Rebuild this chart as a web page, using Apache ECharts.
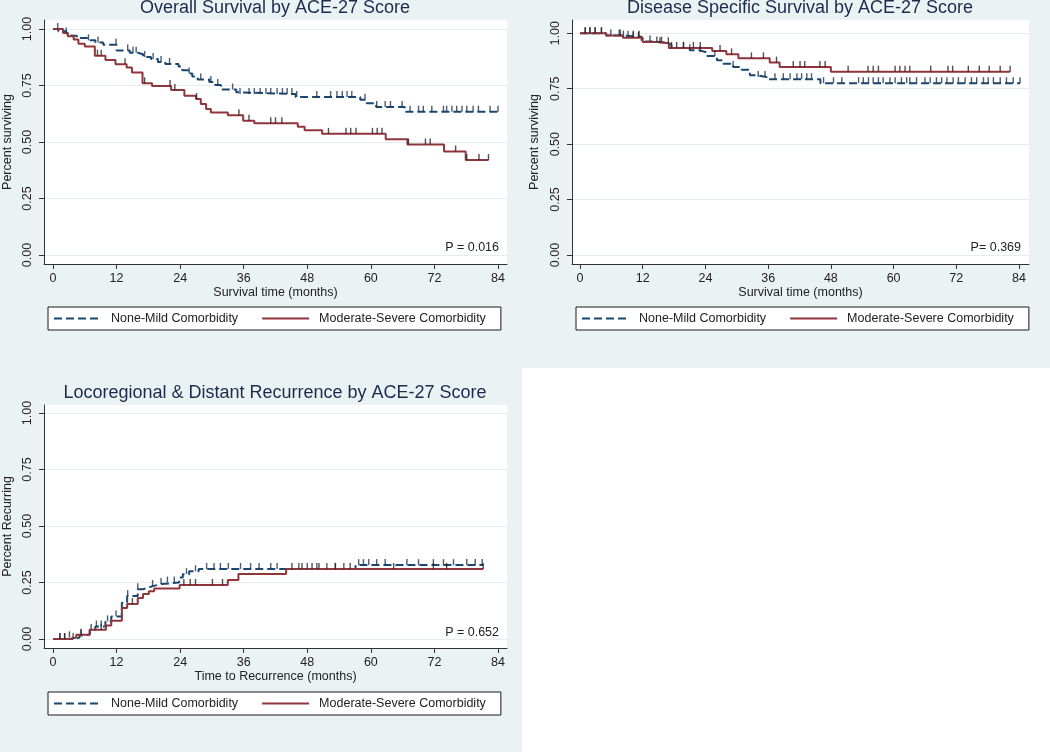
<!DOCTYPE html>
<html>
<head>
<meta charset="utf-8">
<script src="https://cdn.jsdelivr.net/npm/echarts@6/dist/echarts.min.js"></script>
<style>
  html, body { margin: 0; padding: 0; background: #ffffff; }
  #wrap { position: relative; width: 1050px; height: 752px; background: #eaf2f3; overflow: hidden; }
  #blank { position: absolute; left: 522px; top: 368px; width: 528px; height: 384px; background: #ffffff; }
  #chart { position: absolute; left: 0; top: 0; width: 1050px; height: 752px; }
</style>
</head>
<body>
<div id="wrap"><div id="blank"></div><div id="chart"></div></div>
<script>
// ---------- tick labels ----------
const xTicks = [0, 12, 24, 36, 48, 60, 72, 84];
const yTicks = [0, 0.25, 0.5, 0.75, 1];

// ---------- text ----------
const seriesNames = ['None-Mild Comorbidity', 'Moderate-Severe Comorbidity'];
const panelTitles = ['Overall Survival by ACE-27 Score', 'Disease Specific Survival by ACE-27 Score', 'Locoregional & Distant Recurrence by ACE-27 Score'];
const xAxisTitles = ['Survival time (months)', 'Survival time (months)', 'Time to Recurrence (months)'];
const yAxisTitles = ['Percent surviving', 'Percent surviving', 'Percent Recurring'];
const pValues = ['P = 0.016', 'P= 0.369', 'P = 0.652'];

// ---------- Overall survival (time in months, proportion) ----------
const osNoneMild = [[0,1],[1.0,0.99],[2.5,0.98],[3.5,0.97],[4.5,0.96],[6.5,0.95],[8.0,0.94],[9.5,0.93],[12.0,0.905],[14.5,0.895],[16.0,0.888],[17.0,0.876],[18.5,0.867],[19.8,0.854],[21.2,0.845],[23.7,0.834],[24.4,0.817],[25.5,0.803],[26.3,0.79],[27.3,0.777],[29.5,0.765],[30.6,0.752],[31.7,0.732],[34.6,0.72],[35.2,0.712],[45.8,0.699],[58.0,0.687],[59.2,0.671],[61.0,0.655],[66.4,0.634],[84.2,0.634]];
const osModSevere = [[0,1],[1.9,0.982],[2.8,0.968],[3.9,0.953],[4.8,0.935],[6.0,0.922],[7.9,0.882],[9.9,0.863],[11.8,0.844],[13.9,0.83],[14.9,0.808],[16.9,0.76],[18.7,0.748],[22.3,0.73],[24.8,0.705],[27.0,0.69],[27.9,0.668],[28.9,0.646],[29.8,0.631],[33.0,0.618],[35.9,0.594],[38.0,0.583],[46.2,0.568],[47.5,0.552],[50.8,0.536],[62.8,0.512],[66.9,0.489],[73.8,0.458],[77.9,0.42],[82.2,0.42]];
const osNoneMildCensor = [0.9, 2.5, 6.7, 8.5, 11.9, 14.1, 15.1, 15.7, 17.3, 18.9, 20.4, 22.0, 25.7, 27.9, 29.8, 31.1, 33.9, 35.3, 37.0, 38.0, 39.1, 40.2, 41.1, 42.3, 43.3, 44.2, 45.1, 46.0, 49.8, 52.4, 53.6, 54.6, 55.5, 56.4, 58.9, 61.1, 62.7, 63.7, 65.9, 67.4, 69.0, 69.9, 71.5, 73.7, 74.3, 75.3, 76.2, 77.2, 78.1, 79.3, 80.3, 82.5, 84.0];
const osModSevereCensor = [8.4, 9.1, 13.6, 17.3, 22.1, 23.0, 27.1, 35.1, 37.0, 41.1, 42.0, 43.2, 52.0, 55.3, 56.2, 57.2, 60.3, 61.2, 62.1, 67.1, 70.3, 71.2, 76.0, 78.1, 80.4, 82.2];

// ---------- Disease specific survival ----------
const dssNoneMild = [[0,1],[5.0,0.99],[7.7,0.985],[11.8,0.963],[14.0,0.958],[16.5,0.95],[17.5,0.934],[21.0,0.923],[22.9,0.914],[24.2,0.898],[26.2,0.878],[27.4,0.863],[29.3,0.848],[30.9,0.836],[32.5,0.811],[33.8,0.803],[35.7,0.793],[46.0,0.775],[84.2,0.775]];
const dssModSevere = [[0,1],[5.0,0.99],[8.2,0.98],[12.0,0.961],[14.7,0.955],[17.0,0.934],[25.3,0.92],[28.0,0.905],[30.3,0.887],[36.3,0.868],[38.2,0.848],[48.0,0.827],[82.3,0.827]];
const dssNoneMildCensor = [1.0, 1.9, 2.9, 4.1, 5.9, 7.5, 8.3, 9.2, 10.2, 11.3, 13.4, 14.7, 15.6, 17.5, 19.8, 21.0, 23.0, 25.8, 29.3, 34.1, 35.4, 37.3, 38.9, 40.2, 41.5, 42.4, 43.4, 44.3, 46.6, 48.5, 50.1, 53.3, 54.2, 55.2, 56.1, 57.1, 58.0, 59.3, 60.3, 61.5, 62.5, 63.1, 64.4, 66.0, 67.0, 68.2, 69.2, 70.2, 71.4, 72.4, 73.7, 74.9, 75.9, 77.2, 78.1, 79.1, 80.4, 81.6, 82.9, 84.2];
const dssModSevereCensor = [1.0, 1.9, 2.9, 4.1, 7.7, 10.2, 11.2, 15.3, 16.9, 18.5, 19.8, 21.7, 23.0, 26.8, 29.0, 32.8, 35.1, 37.6, 40.8, 42.1, 43.0, 45.9, 46.9, 51.3, 55.1, 56.1, 57.1, 60.3, 61.2, 62.2, 63.1, 67.1, 70.4, 71.3, 74.3, 76.4, 78.3, 80.4, 82.3];

// ---------- Locoregional & distant recurrence (cumulative) ----------
const recNoneMild = [[0,0],[4.0,0.006],[5.0,0.015],[6.0,0.021],[7.0,0.04],[8.0,0.055],[9.9,0.078],[11.0,0.1],[13.0,0.16],[14.0,0.19],[16.0,0.22],[17.0,0.228],[18.0,0.235],[19.0,0.243],[20.5,0.25],[23.8,0.272],[24.5,0.287],[25.7,0.3],[27.5,0.31],[57.1,0.327],[81.2,0.327]];
const recModSevere = [[0,0],[3.1,0.007],[4.4,0.019],[6.9,0.041],[10.0,0.06],[11.0,0.081],[13.0,0.137],[14.0,0.155],[16.0,0.181],[17.0,0.199],[18.1,0.211],[19.1,0.224],[23.9,0.239],[33.0,0.261],[35.0,0.288],[44.0,0.31],[81.2,0.31]];
const recNoneMildCensor = [1.3, 2.2, 3.8, 5.3, 7.2, 8.2, 9.1, 10.3, 11.9, 14.1, 16.0, 18.8, 20.4, 21.6, 22.9, 25.2, 26.9, 29.0, 30.4, 31.6, 33.1, 35.4, 37.3, 38.9, 41.1, 42.3, 46.4, 48.0, 49.8, 51.7, 53.3, 54.9, 57.7, 58.6, 59.6, 61.1, 62.7, 66.8, 69.0, 71.8, 73.7, 75.6, 78.1, 79.7, 81.0];
const recModSevereCensor = [1.3, 2.2, 3.1, 5.3, 9.1, 15.0, 24.7, 25.9, 26.9, 30.1, 32.0, 45.1, 47.0, 48.9, 50.2, 53.3, 56.1, 64.3, 71.8, 74.3, 81.2];

// ---------- build ----------
const NAVY = '#1a476f', MAROON = '#90353b', INK = '#222222', AXIS = '#333333';
const FONT = 'Liberation Sans, Arial, sans-serif';

const panels = [
  { curves: [osNoneMild, osModSevere], censors: [osNoneMildCensor, osModSevereCensor],
    grid: { left: 43, top: 20, width: 464, height: 244 }, xr: [-1.695, 85.695], yr: [-0.0398, 1.0398],
    titleX: 275, titleY: -1, legend: { left: 48, top: 307 }, pPos: [499, 248], yGap: 30 },
  { curves: [dssNoneMild, dssModSevere], censors: [dssNoneMildCensor, dssModSevereCensor],
    grid: { left: 572, top: 20, width: 457, height: 244 }, xr: [-1.531, 85.91], yr: [-0.0406, 1.06],
    titleX: 800, titleY: -1, legend: { left: 576, top: 307 }, pPos: [1021, 248], yGap: 31 },
  { curves: [recNoneMild, recModSevere], censors: [recNoneMildCensor, recModSevereCensor],
    grid: { left: 43, top: 405, width: 464, height: 243 }, xr: [-1.695, 85.695], yr: [-0.0398, 1.0354],
    titleX: 275, titleY: 384, legend: { left: 48, top: 692 }, pPos: [499, 633], yGap: 30 }
];

function valueAt(curve, t) {
  let v = curve[0][1];
  for (const p of curve) { if (p[0] <= t) v = p[1]; }
  return v;
}

const option = {
  animation: false,
  backgroundColor: 'transparent',
  textStyle: { fontFamily: FONT },
  title: [], grid: [], xAxis: [], yAxis: [], legend: [], series: [], graphic: []
};

panels.forEach((p, i) => {
  option.title.push({
    text: panelTitles[i], left: p.titleX, top: p.titleY, textAlign: 'center', padding: 0,
    textStyle: { fontFamily: FONT, fontSize: 18, fontWeight: 'normal', color: '#1c2a4e' }
  });
  option.grid.push(Object.assign({ show: true, backgroundColor: '#ffffff', borderWidth: 0, containLabel: false }, p.grid));
  option.xAxis.push({
    gridIndex: i, type: 'value', min: p.xr[0], max: p.xr[1],
    axisLine: { show: true, onZero: false, lineStyle: { color: AXIS, width: 1 } },
    axisTick: { show: true, customValues: xTicks, length: 5, lineStyle: { color: AXIS } },
    axisLabel: { customValues: xTicks, margin: 8, fontSize: 12.5, color: INK, fontFamily: FONT },
    splitLine: { show: false },
    name: xAxisTitles[i], nameLocation: 'middle', nameGap: 22,
    nameTextStyle: { fontSize: 12.5, color: INK, fontFamily: FONT }
  });
  option.yAxis.push({
    gridIndex: i, type: 'value', min: p.yr[0], max: p.yr[1],
    axisLine: { show: true, onZero: false, lineStyle: { color: AXIS, width: 1 } },
    axisTick: { show: true, customValues: yTicks, length: 5, lineStyle: { color: AXIS } },
    axisLabel: { customValues: yTicks, rotate: 90, margin: 10, fontSize: 12.5, color: INK, fontFamily: FONT,
                 formatter: v => Number(v).toFixed(2) },
    splitLine: { show: true, lineStyle: { color: '#e4ecee', width: 1 } },
    name: yAxisTitles[i], nameLocation: 'middle', nameGap: p.yGap,
    nameTextStyle: { fontSize: 12.5, color: INK, fontFamily: FONT }
  });
  option.legend.push({
    data: seriesNames, left: p.legend.left, top: p.legend.top, orient: 'horizontal',
    itemWidth: 47, itemHeight: 14, itemGap: 23, padding: [5, 15, 5, 5],
    backgroundColor: '#ffffff', borderColor: '#1a1a1a', borderWidth: 1, borderRadius: 0,
    selectedMode: false,
    itemStyle: { opacity: 0 },
    lineStyle: { width: 2 },
    textStyle: { fontSize: 12.5, color: INK, fontFamily: FONT, padding: [0, 0, 0, 5] }
  });
  const colors = [NAVY, MAROON];
  const tickColors = ['#1d3550', '#2a2222'];
  const dashes = [[8, 4], 'solid'];
  [0, 1].forEach(k => {
    option.series.push({
      name: seriesNames[k], type: 'line', xAxisIndex: i, yAxisIndex: i,
      data: p.curves[k], step: 'end', symbol: 'none', silent: true,
      lineStyle: { color: colors[k], width: 2, type: dashes[k] },
      itemStyle: { color: colors[k] },
      emphasis: { disabled: true }, z: 3
    });
  });
  [0, 1].forEach(k => {
    option.series.push({
      name: seriesNames[k] + ' censored', type: 'scatter', xAxisIndex: i, yAxisIndex: i,
      data: p.censors[k].map(t => [t, valueAt(p.curves[k], t)]),
      symbol: 'rect', symbolSize: [1.4, 6], symbolOffset: [0, -3], silent: true,
      itemStyle: { color: tickColors[k] }, emphasis: { disabled: true }, z: 4
    });
  });
  option.graphic.push({
    type: 'text', x: p.pPos[0], y: p.pPos[1], silent: true, z: 10,
    style: { text: pValues[i], textAlign: 'right', textVerticalAlign: 'middle',
             font: '12.5px ' + FONT, fill: INK }
  });
});

const chart = echarts.init(document.getElementById('chart'), null, { renderer: 'canvas' });
chart.setOption(option);
</script>
</body>
</html>
